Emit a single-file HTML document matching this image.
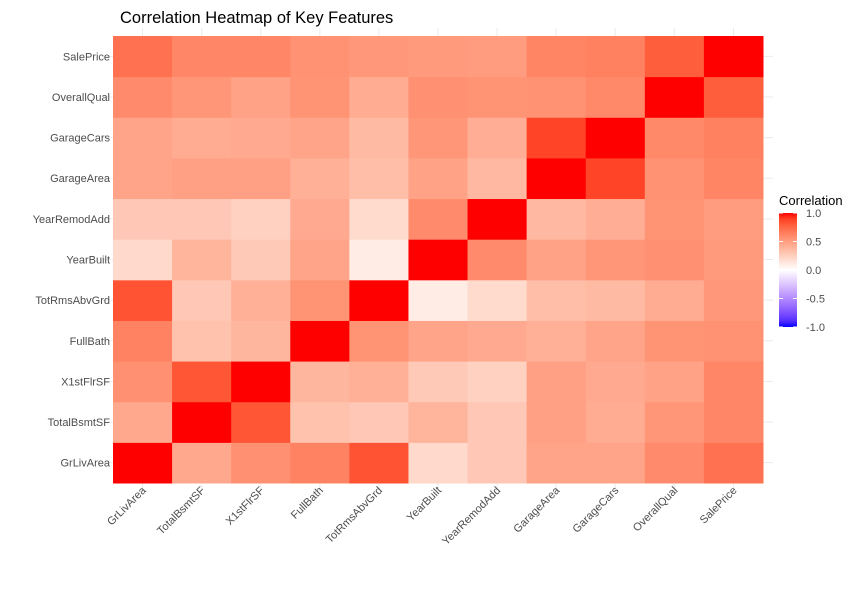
<!DOCTYPE html>
<html><head><meta charset="utf-8"><style>
body{margin:0;background:#fff;}
svg text{font-family:"Liberation Sans",Arial,sans-serif;}
</style></head><body>
<svg id="chart" width="864" height="589" xmlns="http://www.w3.org/2000/svg">
<rect width="864" height="589" fill="#fff"/>
<text x="120" y="23" font-size="16.5" fill="#000">Correlation Heatmap of Key Features</text>
<g id="grid"></g><g id="cells"></g><g id="ylabels"></g><g id="xlabels"></g>
<g id="legend">
<defs><linearGradient id="lg" x1="0" y1="1" x2="0" y2="0" id2=""></linearGradient></defs>
<text x="779" y="205" font-size="13" fill="#000">Correlation</text>
<rect x="779" y="213" width="18" height="114" fill="url(#lg)"/>
<g id="legticks"></g>
</g>
</svg>
<script>
const features = ["GrLivArea","TotalBsmtSF","X1stFlrSF","FullBath","TotRmsAbvGrd","YearBuilt","YearRemodAdd","GarageArea","GarageCars","OverallQual","SalePrice"];
const upper = [
 [0.45,0.57,0.63,0.83,0.20,0.29,0.47,0.47,0.59,0.71],
 [0.82,0.32,0.29,0.39,0.29,0.49,0.43,0.54,0.61],
 [0.38,0.41,0.28,0.24,0.49,0.44,0.48,0.61],
 [0.55,0.47,0.44,0.41,0.47,0.55,0.56],
 [0.10,0.19,0.34,0.36,0.43,0.53],
 [0.59,0.48,0.54,0.57,0.52],
 [0.37,0.42,0.55,0.51],
 [0.88,0.56,0.62],
 [0.60,0.64],
 [0.79]
];
const legendTicks = [1.0,0.5,0.0,-0.5,-1.0];
const NS="http://www.w3.org/2000/svg";
const n=features.length;
const x0=113,x1=763,y0=36,y1=483;
const cw=(x1-x0)/n, ch=(y1-y0)/n;
function corr(i,j){ if(i===j) return 1; const a=Math.min(i,j),b=Math.max(i,j); return upper[a][b-a-1]; }
function xPos(i){return x0+i*cw;}
function yPos(j){return y1-(j+1)*ch;}
// Lab interpolation
function srgb2lin(c){c/=255;return c<=0.04045?c/12.92:Math.pow((c+0.055)/1.055,2.4);}
function lin2srgb(c){c=c<=0.0031308?12.92*c:1.055*Math.pow(c,1/2.4)-0.055;return Math.round(Math.max(0,Math.min(1,c))*255);}
function toLab(r,g,b){r=srgb2lin(r);g=srgb2lin(g);b=srgb2lin(b);
 let X=(0.4124*r+0.3576*g+0.1805*b)/0.95047,Y=0.2126*r+0.7152*g+0.0722*b,Z=(0.0193*r+0.1192*g+0.9505*b)/1.08883;
 const f=t=>t>0.008856?Math.cbrt(t):7.787*t+16/116;X=f(X);Y=f(Y);Z=f(Z);return [116*Y-16,500*(X-Y),200*(Y-Z)];}
function fromLab(L,a,b){let Y=(L+16)/116,X=a/500+Y,Z=Y-b/200;const fi=t=>t**3>0.008856?t**3:(t-16/116)/7.787;
 X=fi(X)*0.95047;Y=fi(Y);Z=fi(Z)*1.08883;
 const r=3.2406*X-1.5372*Y-0.4986*Z,g=-0.9689*X+1.8758*Y+0.0415*Z,bb=0.0557*X-0.2040*Y+1.0570*Z;
 return `rgb(${lin2srgb(r)},${lin2srgb(g)},${lin2srgb(bb)})`;}
const W=toLab(255,255,255),R=toLab(255,0,0),B=toLab(0,0,255);
function color(v){const t=Math.abs(v),e=v>=0?R:B;return fromLab(W[0]+(e[0]-W[0])*t,W[1]+(e[1]-W[1])*t,W[2]+(e[2]-W[2])*t);}
const grid=document.getElementById('grid'),cells=document.getElementById('cells'),yl=document.getElementById('ylabels'),xl=document.getElementById('xlabels');
for(let i=0;i<n;i++){
 const gx=document.createElementNS(NS,'line');gx.setAttribute('x1',xPos(i)+cw/2);gx.setAttribute('x2',xPos(i)+cw/2);gx.setAttribute('y1',y0-8);gx.setAttribute('y2',y1+8);gx.setAttribute('stroke','#ebebeb');
 
 grid.appendChild(gx);
 const gy=document.createElementNS(NS,'line');gy.setAttribute('y1',yPos(i)+ch/2);gy.setAttribute('y2',yPos(i)+ch/2);gy.setAttribute('x1',x0-10);gy.setAttribute('x2',x1+10);gy.setAttribute('stroke','#ebebeb');
 
 grid.appendChild(gy);
}
for(let i=0;i<n;i++)for(let j=0;j<n;j++){
 const r=document.createElementNS(NS,'rect');
 r.setAttribute('x',xPos(i));r.setAttribute('y',yPos(j));r.setAttribute('width',cw+0.5);r.setAttribute('height',ch+0.5);
 r.setAttribute('fill',color(corr(i,j)));
 
 
 cells.appendChild(r);
}
features.forEach((f,j)=>{
 const t=document.createElementNS(NS,'text');t.setAttribute('x',x0-3);t.setAttribute('y',yPos(j)+ch/2+4);t.setAttribute('text-anchor','end');t.setAttribute('font-size','11');t.setAttribute('fill','#4d4d4d');t.textContent=f;
 
 yl.appendChild(t);
 const u=document.createElementNS(NS,'text');const cx=xPos(j)+cw/2+4,cy=y1+8;
 u.setAttribute('x',cx);u.setAttribute('y',cy);u.setAttribute('text-anchor','end');u.setAttribute('font-size','11');u.setAttribute('fill','#4d4d4d');
 u.setAttribute('transform',`rotate(-45 ${cx} ${cy})`);u.textContent=f;
 
 xl.appendChild(u);
});
const lg=document.getElementById('lg');
for(let k=0;k<=20;k++){const v=-1+k/10;const s=document.createElementNS(NS,'stop');s.setAttribute('offset',(k/20));s.setAttribute('stop-color',color(v));lg.appendChild(s);}
const lt=document.getElementById('legticks');
legendTicks.forEach(v=>{const y=213+(1-v)/2*114;
 const t=document.createElementNS(NS,'text');t.setAttribute('x',806);t.setAttribute('y',y+4);t.setAttribute('font-size','11');t.setAttribute('fill','#4d4d4d');t.textContent=v.toFixed(1);
 
 lt.appendChild(t);
 [779,793].forEach(x=>{const l=document.createElementNS(NS,'line');l.setAttribute('x1',x);l.setAttribute('x2',x+4);l.setAttribute('y1',y);l.setAttribute('y2',y);l.setAttribute('stroke','#fff');
 
 lt.appendChild(l);});
});
</script>
</body></html>
